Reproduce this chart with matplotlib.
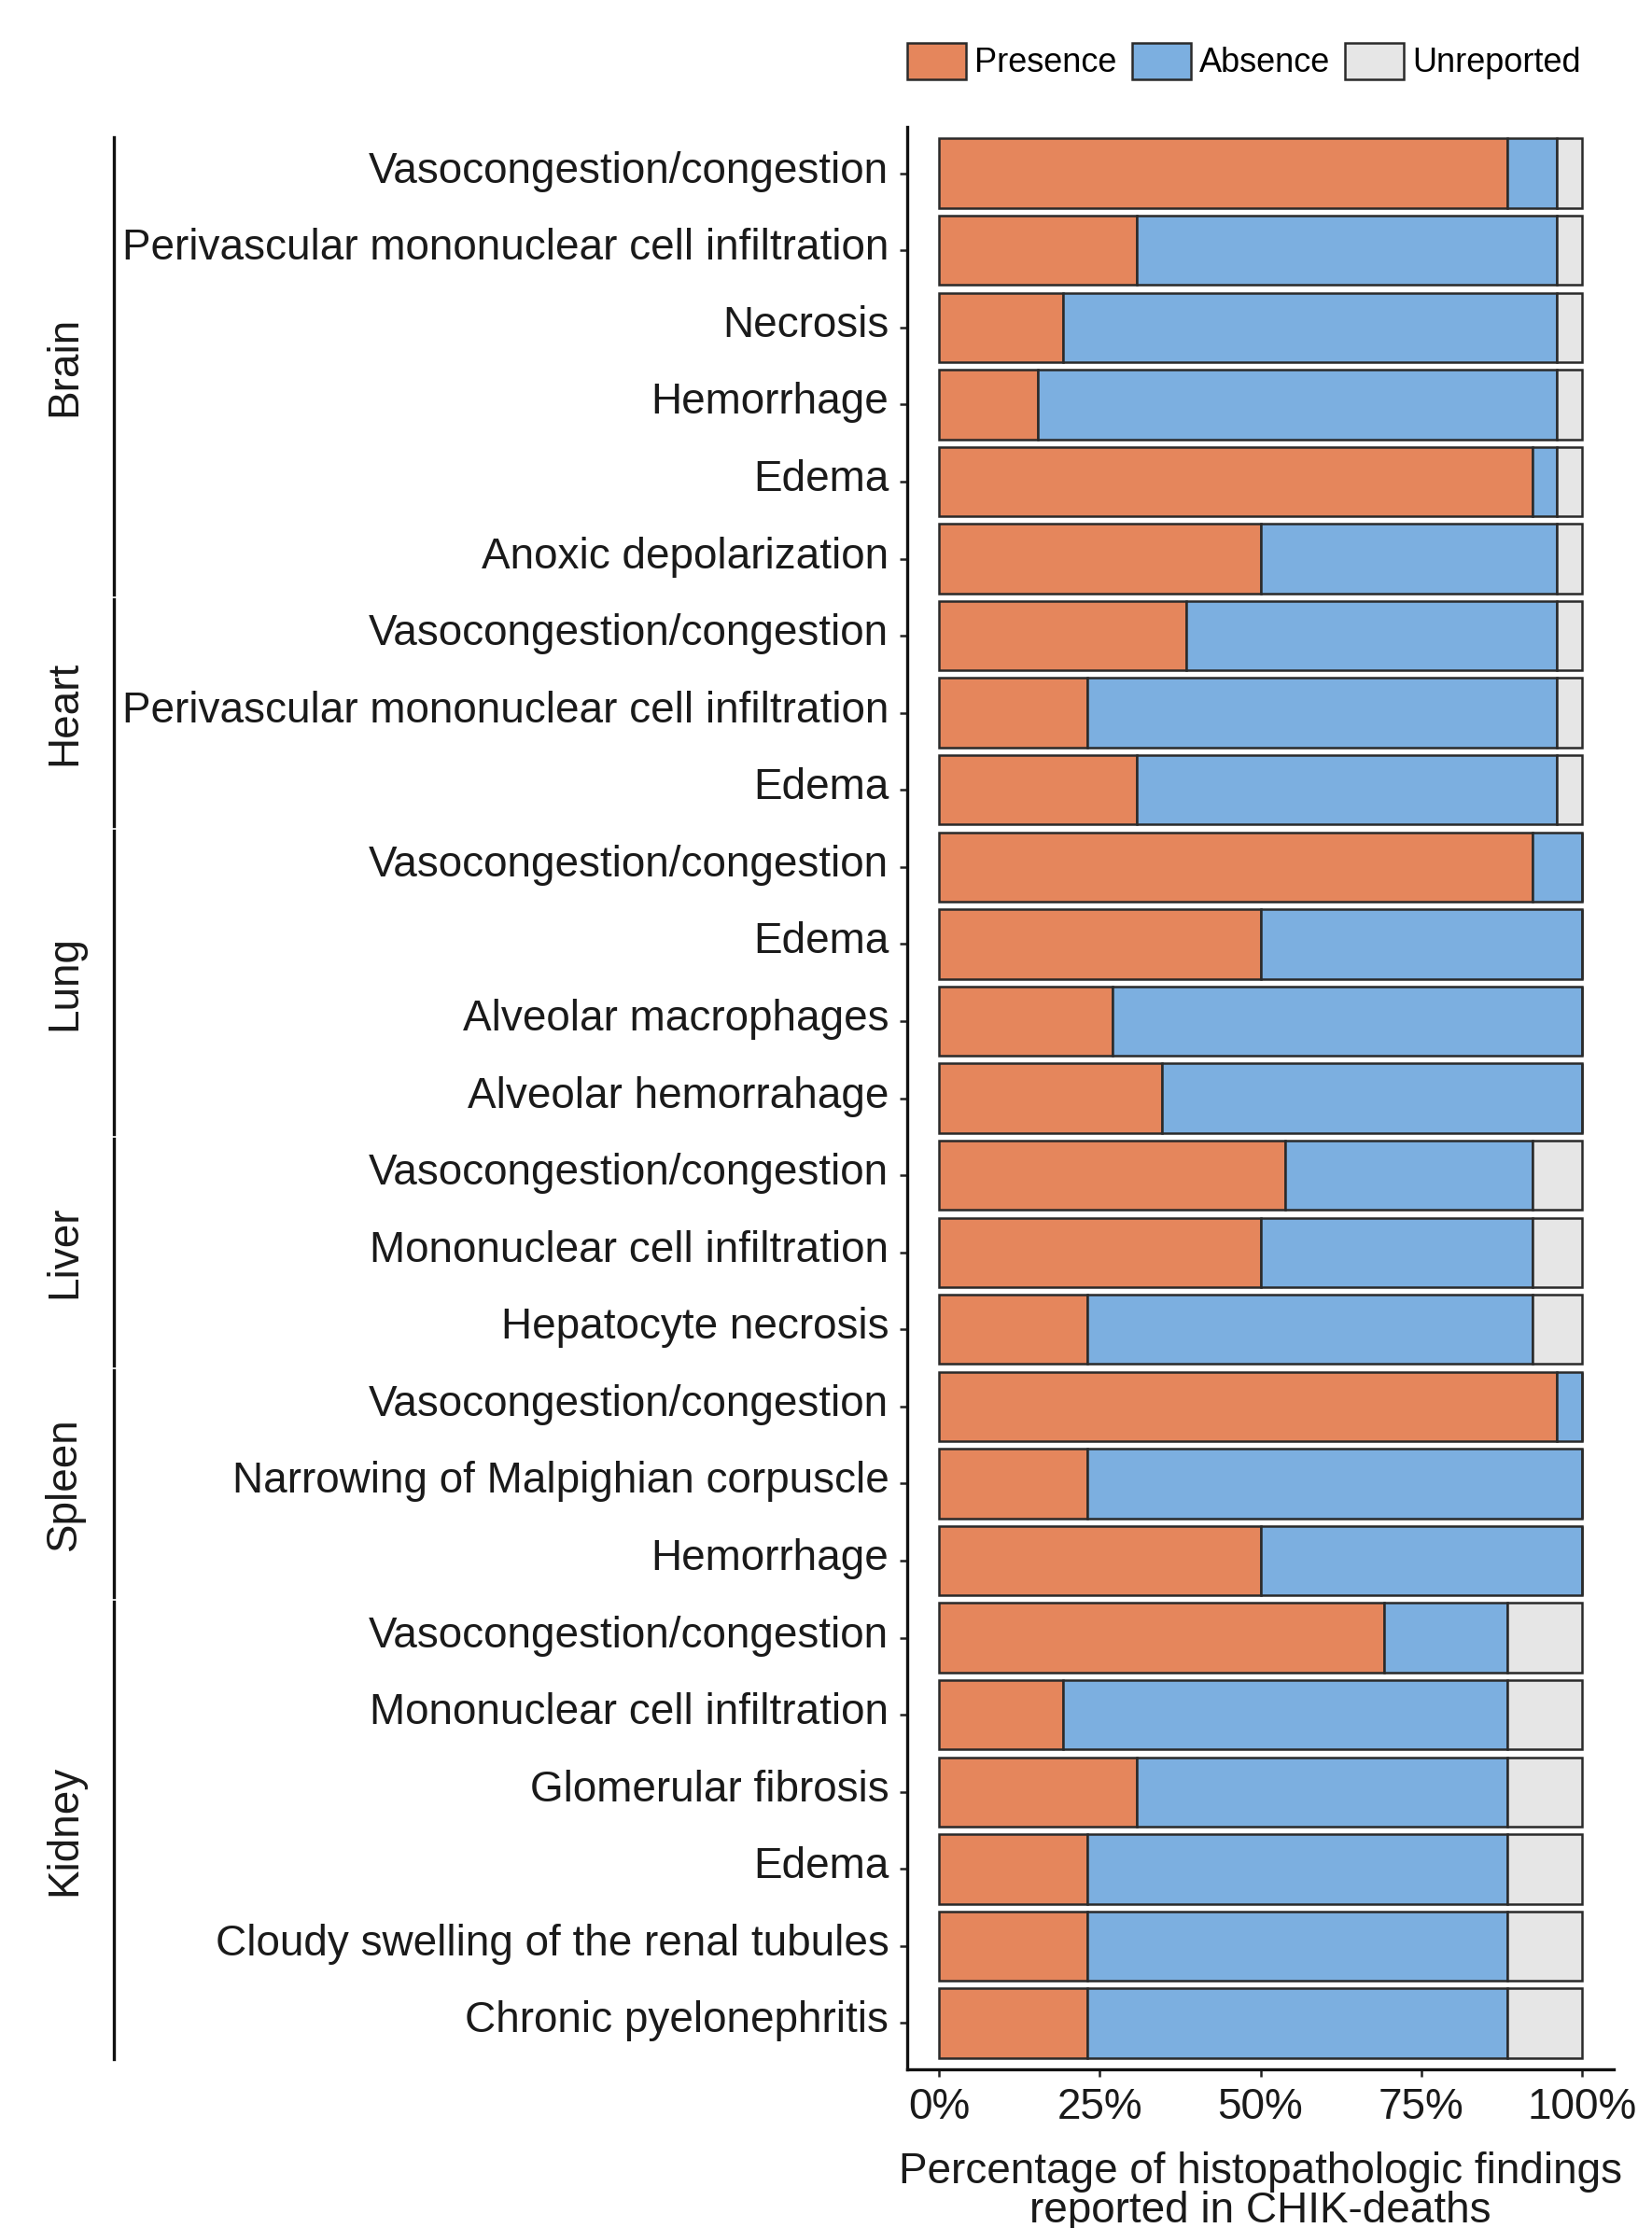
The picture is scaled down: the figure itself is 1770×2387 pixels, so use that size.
import matplotlib
matplotlib.use('Agg')
import matplotlib.pyplot as plt
import matplotlib.transforms as mtransforms
import numpy as np

plt.rcParams['font.family'] = ['Liberation Sans', 'DejaVu Sans']

# counts out of 26 CHIK-deaths
organs = ['Brain', 'Heart', 'Lung', 'Liver', 'Spleen', 'Kidney']
organ_sizes = [6, 3, 4, 3, 3, 6]
findings = [
    'Vasocongestion/congestion', 'Perivascular mononuclear cell infiltration',
    'Necrosis', 'Hemorrhage', 'Edema', 'Anoxic depolarization',
    'Vasocongestion/congestion', 'Perivascular mononuclear cell infiltration', 'Edema',
    'Vasocongestion/congestion', 'Edema', 'Alveolar macrophages', 'Alveolar hemorrahage',
    'Vasocongestion/congestion', 'Mononuclear cell infiltration', 'Hepatocyte necrosis',
    'Vasocongestion/congestion', 'Narrowing of Malpighian corpuscle', 'Hemorrhage',
    'Vasocongestion/congestion', 'Mononuclear cell infiltration', 'Glomerular fibrosis',
    'Edema', 'Cloudy swelling of the renal tubules', 'Chronic pyelonephritis',
]
presence = [23, 8, 5, 4, 24, 13, 10, 6, 8, 24, 13, 7, 9, 14, 13, 6, 25, 6, 13, 18, 5, 8, 6, 6, 6]
absence = [2, 17, 20, 21, 1, 12, 15, 19, 17, 2, 13, 19, 17, 10, 11, 18, 1, 20, 13, 5, 18, 15, 17, 17, 17]
unreported = [1, 1, 1, 1, 1, 1, 1, 1, 1, 0, 0, 0, 0, 2, 2, 2, 0, 0, 0, 3, 3, 3, 3, 3, 3]

status = ['Presence', 'Absence', 'Unreported']
colors = ['#E5865C', '#7CAFE0', '#E6E6E6']

pres = np.array(presence, float)
absn = np.array(absence, float)
unrp = np.array(unreported, float)
total = pres + absn + unrp
pres_p = pres / total * 100
absn_p = absn / total * 100
unrp_p = unrp / total * 100

fig = plt.figure(figsize=(17.7, 23.87), dpi=100)
ax = fig.add_axes([0.549, 0.0712, 0.977 - 0.549, 0.943 - 0.0712])

y = np.arange(len(findings))
kw = dict(height=0.9, edgecolor='#2a2a2a', linewidth=1.8)
ax.barh(y, pres_p, color=colors[0], label=status[0], **kw)
ax.barh(y, absn_p, left=pres_p, color=colors[1], label=status[1], **kw)
ax.barh(y, unrp_p, left=pres_p + absn_p, color=colors[2], label=status[2], **kw)

ax.set_xlim(-5, 105)
ax.set_ylim(len(findings) - 0.4, -0.6)
ax.set_yticks(y)
ax.set_yticklabels(findings)
ax.set_xticks([0, 25, 50, 75, 100])
ax.set_xticklabels(['0%', '25%', '50%', '75%', '100%'])
ax.tick_params(axis='both', labelsize=33, length=6, width=1.8, color='#222222',
               labelcolor='#1a1a1a', pad=8)
# nudge the row labels up a little, like the original
up = mtransforms.ScaledTranslation(0, 7 / 100, fig.dpi_scale_trans)
for lab in ax.get_yticklabels():
    lab.set_transform(lab.get_transform() + up)

for s in ['top', 'right']:
    ax.spines[s].set_visible(False)
for s in ['left', 'bottom']:
    ax.spines[s].set_linewidth(2.4)
    ax.spines[s].set_color('#111111')

ax.set_xlabel('Percentage of histopathologic findings\nreported in CHIK-deaths',
              fontsize=33, color='#1a1a1a', labelpad=18, linespacing=0.92)

# organ group brackets on the far left
trans = mtransforms.blended_transform_factory(fig.transFigure, ax.transData)
start = 0
for organ, n in zip(organs, organ_sizes):
    top = start - 0.47
    bot = start + n - 1 + 0.47
    ax.plot([0.069, 0.069], [top, bot], color='#111111', lw=2.4,
            transform=trans, clip_on=False)
    ax.text(0.039, (top + bot) / 2, organ, rotation=90, ha='center', va='center',
            fontsize=33, color='#1a1a1a', transform=trans)
    start += n

fig.legend(loc='center left', bbox_to_anchor=(0.549, 0.9725), ncol=3, frameon=False,
           fontsize=26, handlelength=1.75, handleheight=1.27, handletextpad=0.25,
           columnspacing=0.45, borderpad=0, borderaxespad=0)

fig.savefig('out.png', dpi=100)
